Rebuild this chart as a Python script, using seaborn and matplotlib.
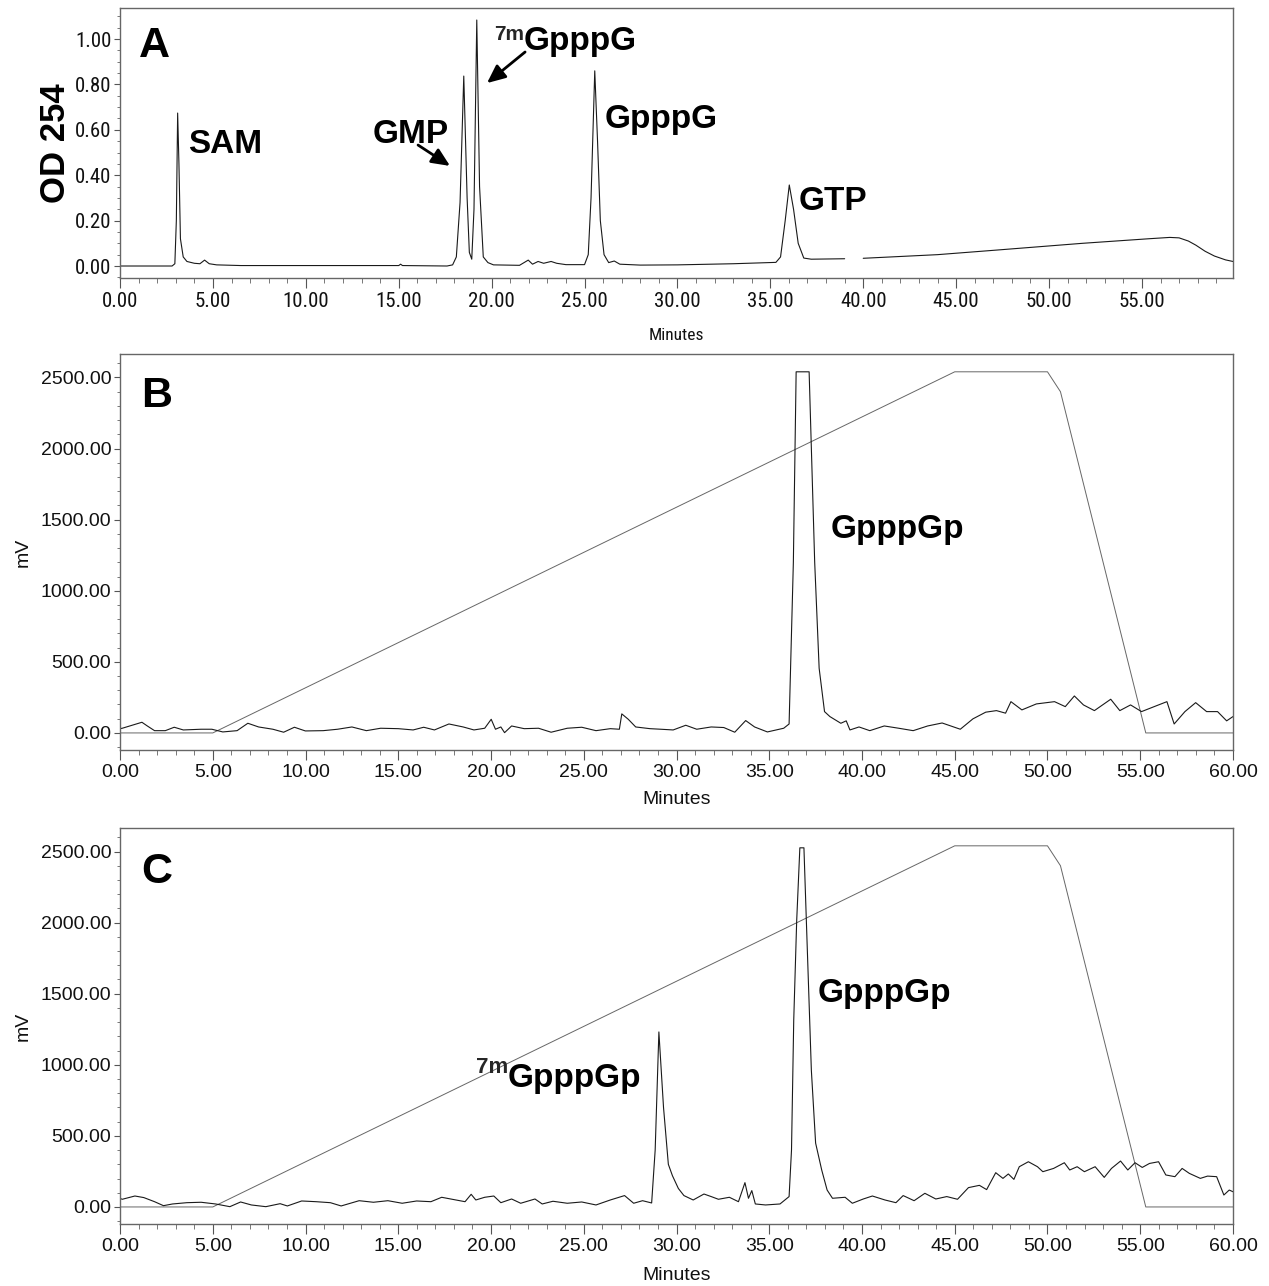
import matplotlib
matplotlib.use("Agg")
import matplotlib.pyplot as plt
from matplotlib import font_manager
from matplotlib.ticker import MultipleLocator, FormatStrFormatter
import pandas as pd
import seaborn as sns

# Panel A: UV trace (OD 254) vs. retention time
a_time = [0.00, 2.80, 2.95, 3.03, 3.10, 3.17, 3.25, 3.40, 3.60, 4.00,
          4.30, 4.55, 4.80, 5.20, 6.50, 15.00, 15.10, 15.20, 17.60, 17.90,
          18.10, 18.30, 18.50, 18.68, 18.80, 18.93, 19.05, 19.20, 19.35, 19.55,
          19.80, 20.10, 21.50, 21.97, 22.20, 22.50, 22.80, 23.20, 23.50, 24.00,
          25.00, 25.20, 25.35, 25.55, 25.70, 25.85, 26.05, 26.30, 26.60, 26.90,
          28.00, 30.00, 33.00, 35.30, 35.55, 35.80, 36.02, 36.25, 36.50, 36.80,
          37.20, 39.00, 40.00, 44.00, 47.15, 51.80, 55.35, 56.50, 57.00, 57.50,
          57.90, 58.40, 58.90, 59.50, 59.90]
a_od = [0.000, 0.000, 0.010, 0.200, 0.674, 0.450, 0.120, 0.040, 0.020, 0.012,
        0.010, 0.026, 0.010, 0.005, 0.002, 0.002, 0.008, 0.002, 0.000, 0.005,
        0.040, 0.280, 0.837, 0.300, 0.060, 0.030, 0.250, 1.084, 0.350, 0.040,
        0.015, 0.005, 0.003, 0.026, 0.008, 0.020, 0.012, 0.020, 0.012, 0.006,
        0.006, 0.050, 0.300, 0.860, 0.550, 0.200, 0.050, 0.015, 0.022, 0.008,
        0.004, 0.005, 0.010, 0.016, 0.040, 0.200, 0.357, 0.250, 0.100, 0.035,
        0.030, 0.032, 0.034, 0.050, 0.070, 0.100, 0.120, 0.126, 0.124, 0.110,
        0.092, 0.065, 0.044, 0.027, 0.020]

# Panel B: radioactivity detector (mV)
b_time = [0.0, 0.12, 0.70, 1.18, 1.47, 1.86, 2.44, 2.92, 3.41, 4.37,
          4.95, 5.54, 6.31, 6.89, 7.47, 8.24, 8.82, 9.40, 9.99, 10.95,
          11.73, 12.50, 13.28, 14.05, 15.00, 15.80, 16.37, 16.95, 17.73, 18.50,
          19.08, 19.66, 20.01, 20.24, 20.53, 20.73, 21.11, 21.79, 22.56, 23.24,
          24.11, 24.89, 25.66, 26.43, 26.92, 27.05, 27.40, 27.80, 28.57, 29.15,
          29.82, 30.50, 31.09, 31.87, 32.55, 33.14, 33.73, 34.21, 34.90, 35.78,
          36.07, 36.30, 36.45, 37.15, 37.45, 37.69, 37.98, 38.27, 38.86, 39.15,
          39.35, 39.84, 40.42, 41.20, 41.98, 42.76, 43.54, 44.32, 45.30, 45.98,
          46.67, 47.25, 47.74, 48.03, 48.62, 49.40, 50.38, 50.96, 51.45, 51.94,
          52.53, 53.41, 53.90, 54.48, 55.07, 55.85, 56.44, 56.83, 57.41, 57.99,
          58.58, 59.17, 59.66, 60.00]
b_mv = [30, 33, 56, 75, 49, 16, 16, 40, 21, 26,
        26, 7, 16, 68, 42, 26, 5, 40, 14, 16,
        26, 42, 16, 33, 30, 21, 40, 21, 63, 42,
        21, 33, 96, 26, 42, 2, 49, 30, 33, 5,
        33, 40, 16, 30, 26, 134, 96, 42, 30, 26,
        21, 54, 26, 42, 38, 5, 87, 42, 7, 33,
        63, 1200, 2540, 2540, 1200, 455, 150, 115, 68, 85,
        21, 42, 16, 49, 33, 16, 49, 70, 26, 99,
        146, 157, 139, 220, 162, 204, 220, 185, 260, 197,
        157, 237, 157, 197, 150, 190, 220, 63, 150, 213,
        150, 150, 85, 115]

# Panel C: radioactivity detector (mV)
c_time = [0.0, 0.12, 0.80, 1.28, 1.86, 2.34, 2.83, 3.60, 4.37, 5.15,
          5.92, 6.50, 7.08, 7.86, 8.63, 9.02, 9.79, 10.57, 11.34, 11.92,
          12.89, 13.66, 14.44, 15.21, 15.99, 16.76, 17.34, 18.11, 18.60, 18.93,
          19.18, 19.66, 20.15, 20.53, 21.11, 21.60, 22.37, 22.76, 23.34, 24.11,
          24.89, 25.66, 26.43, 27.20, 27.69, 28.17, 28.66, 28.85, 29.05, 29.30,
          29.56, 29.78, 30.10, 30.40, 30.90, 31.48, 31.87, 32.26, 32.85, 33.34,
          33.69, 33.88, 34.06, 34.25, 34.80, 35.58, 36.07, 36.20, 36.32, 36.48,
          36.65, 36.87, 37.00, 37.27, 37.50, 37.83, 38.12, 38.41, 39.09, 39.48,
          40.07, 40.56, 41.24, 41.83, 42.22, 42.81, 43.39, 43.98, 44.57, 45.15,
          45.74, 46.33, 46.72, 47.21, 47.60, 47.89, 48.19, 48.48, 48.97, 49.46,
          49.75, 50.33, 50.91, 51.20, 51.60, 51.99, 52.57, 53.06, 53.45, 53.94,
          54.33, 54.72, 55.11, 55.50, 55.99, 56.38, 56.87, 57.26, 57.65, 58.24,
          58.63, 59.12, 59.51, 59.80, 60.00]
c_mv = [60, 54, 77, 66, 37, 9, 21, 30, 33, 21,
        2, 35, 14, 2, 23, 7, 42, 37, 30, 7,
        44, 33, 44, 26, 42, 37, 68, 49, 37, 89,
        49, 68, 77, 30, 56, 26, 56, 21, 40, 26,
        35, 14, 49, 80, 26, 44, 28, 400, 1231, 700,
        300, 220, 130, 80, 49, 91, 73, 54, 68, 37,
        171, 61, 115, 21, 14, 21, 73, 400, 1313, 2015,
        2526, 2526, 2015, 962, 449, 259, 119, 61, 68, 26,
        56, 77, 49, 30, 80, 44, 96, 56, 73, 54,
        136, 152, 122, 241, 201, 232, 194, 283, 318, 283,
        248, 271, 311, 260, 283, 248, 283, 208, 271, 323,
        260, 311, 278, 306, 318, 225, 213, 271, 236, 201,
        217, 213, 84, 119, 107]

# gradient program trace drawn in B and C
grad_time = [0.0, 5.0, 45.0, 50.0, 50.7, 55.3, 60.0]
grad_mv = [0, 0, 2540, 2540, 2400, 0, 0]

sns.set_theme(style="ticks")
plt.rcParams["font.family"] = ["Liberation Sans", "DejaVu Sans"]

# panel A uses a condensed face for its axis text if one is installed
fonts = font_manager.fontManager.ttflist
names = {f.name for f in fonts}
narrow, narrow_stretch, narrow_size = "Liberation Sans", "normal", 11.5
for cand in ("Liberation Sans Narrow", "Roboto Condensed", "Open Sans Condensed"):
    if cand in names:
        narrow, narrow_stretch, narrow_size = cand, "normal", 15
        break
else:
    for fam in ("DejaVu Sans", "Roboto", "Open Sans"):
        if any(f.name == fam and f.stretch == "condensed" for f in fonts):
            narrow, narrow_stretch, narrow_size = fam, "condensed", 14
            break

fig = plt.figure(figsize=(12.69, 12.86), dpi=100)
axA = fig.add_axes([0.0946, 0.7838, 0.8770, 0.2100])
axB = fig.add_axes([0.0946, 0.4168, 0.8770, 0.3079])
axC = fig.add_axes([0.0946, 0.0482, 0.8770, 0.3079])

line_kw = dict(color="#1a1a1a", linewidth=0.8, estimator=None, sort=False)
grad_kw = dict(color="#666666", linewidth=0.7, estimator=None, sort=False)

# A: the trace has a short gap just before 40 min
dfA = pd.DataFrame({"time": a_time, "od": a_od})
dfA["seg"] = (dfA["time"] > 39.5).astype(int)
sns.lineplot(data=dfA, x="time", y="od", units="seg", ax=axA, **line_kw)

dfB = pd.DataFrame({"time": b_time, "mv": b_mv})
dfC = pd.DataFrame({"time": c_time, "mv": c_mv})
dfG = pd.DataFrame({"time": grad_time, "mv": grad_mv})
for ax, df in ((axB, dfB), (axC, dfC)):
    sns.lineplot(data=dfG, x="time", y="mv", ax=ax, **grad_kw)
    sns.lineplot(data=df, x="time", y="mv", ax=ax, **line_kw)

# axes styling
axA.set_xlim(0, 59.9)
axA.set_ylim(-0.053, 1.137)
axA.yaxis.set_major_locator(MultipleLocator(0.2))
axA.yaxis.set_minor_locator(MultipleLocator(0.05))
for ax in (axB, axC):
    ax.set_xlim(0, 60)
    ax.set_ylim(-120, 2665)
    ax.yaxis.set_major_locator(MultipleLocator(500))
    ax.yaxis.set_minor_locator(MultipleLocator(100))

for ax in (axA, axB, axC):
    ax.xaxis.set_major_locator(MultipleLocator(5))
    ax.xaxis.set_minor_locator(MultipleLocator(1))
    ax.xaxis.set_major_formatter(FormatStrFormatter("%.2f"))
    ax.yaxis.set_major_formatter(FormatStrFormatter("%.2f"))
    for side in ("top", "right", "left", "bottom"):
        ax.spines[side].set_visible(True)
        ax.spines[side].set_color("#666666")
        ax.spines[side].set_linewidth(1.0)
    ax.tick_params(axis="x", which="major", direction="out", length=7, width=0.8, color="#555555", pad=3)
    ax.tick_params(axis="x", which="minor", direction="out", length=3.5, width=0.7, color="#777777")
    ax.tick_params(axis="y", which="major", direction="out", length=4.3, width=0.8, color="#555555", pad=2)
    ax.tick_params(axis="y", which="minor", direction="out", length=2.2, width=0.7, color="#777777")
    ax.grid(False)

for lab in axA.get_xticklabels() + axA.get_yticklabels():
    lab.set_fontfamily(narrow)
    lab.set_fontstretch(narrow_stretch)
    lab.set_fontsize(narrow_size)
    lab.set_color("#111111")
for ax in (axB, axC):
    for lab in ax.get_xticklabels() + ax.get_yticklabels():
        lab.set_fontsize(14)
        lab.set_color("#111111")

axA.set_xlabel("Minutes", fontfamily=narrow, fontstretch=narrow_stretch,
               fontsize=narrow_size - 2.5, color="#111111")
axA.xaxis.set_label_coords(0.5, -0.185)
axA.set_ylabel("OD 254", fontsize=25, fontweight="bold", color="black")
axA.yaxis.set_label_coords(-0.043, 0.5)
for ax, ly in ((axB, -0.104), (axC, -0.109)):
    ax.set_xlabel("Minutes", fontsize=14, color="#111111")
    ax.xaxis.set_label_coords(0.5, ly)
    ax.set_ylabel("mV", fontsize=14, color="#111111")
    ax.yaxis.set_label_coords(-0.079, 0.5)

# panel letters
bold = dict(fontweight="bold", color="black", va="baseline", ha="left")
axA.text(0.017, 0.82, "A", transform=axA.transAxes, fontsize=31, **bold)
axB.text(0.019, 0.866, "B", transform=axB.transAxes, fontsize=31, **bold)
axC.text(0.019, 0.861, "C", transform=axC.transAxes, fontsize=31, **bold)

# peak labels in A
axA.text(3.66, 0.50, "SAM", fontsize=24, **bold)
axA.text(13.6, 0.54, "GMP", fontsize=24, **bold)
axA.text(21.74, 0.95, "GpppG", fontsize=24, **bold)
axA.annotate("7m", xy=(21.74, 0.95), xytext=(0, 7.2), textcoords="offset points",
             fontsize=15, fontweight="bold", ha="right", va="baseline")
axA.text(26.1, 0.61, "GpppG", fontsize=24, **bold)
axA.text(36.5, 0.245, "GTP", fontsize=24, **bold)
arrow = dict(arrowstyle="-|>,head_length=1.0,head_width=0.45", lw=2.0, color="black",
             shrinkA=0, shrinkB=0, mutation_scale=11)
axA.annotate("", xy=(17.76, 0.441), xytext=(16.04, 0.533), arrowprops=arrow)
axA.annotate("", xy=(19.75, 0.806), xytext=(21.8, 0.943), arrowprops=arrow)

# peak labels in B and C
axB.text(38.33, 1373, "GpppGp", fontsize=24, **bold)
axC.text(37.6, 1440, "GpppGp", fontsize=24, **bold)
axC.text(20.92, 843, "GpppGp", fontsize=24, **bold)
axC.annotate("7m", xy=(20.92, 843), xytext=(0, 10), textcoords="offset points",
             fontsize=16, fontweight="bold", ha="right", va="baseline")

fig.savefig("out.png", dpi=100, facecolor="white")
